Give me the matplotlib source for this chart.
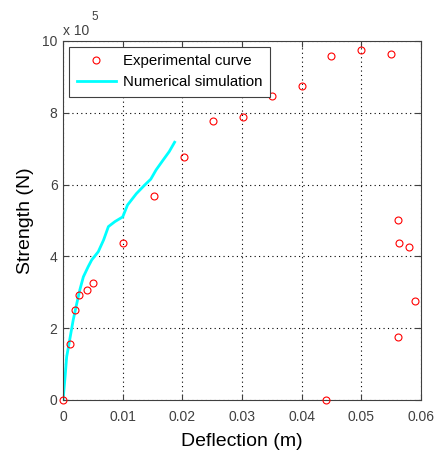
import matplotlib
matplotlib.use('Agg')
import matplotlib.pyplot as plt

plt.rcParams['font.family'] = ['Liberation Sans', 'DejaVu Sans']

# experimental points (deflection m, strength x 1e5 N)
exp_x = [0.0, 0.0012, 0.002, 0.0027, 0.004, 0.0051, 0.0101, 0.0152, 0.0202,
         0.0251, 0.0301, 0.035, 0.040, 0.045, 0.050, 0.055,
         0.0561, 0.0564, 0.058, 0.059, 0.0561, 0.0441]
exp_y = [0.0, 1.55, 2.51, 2.93, 3.07, 3.25, 4.38, 5.69, 6.76,
         7.78, 7.87, 8.46, 8.75, 9.59, 9.74, 9.63,
         5.0, 4.38, 4.26, 2.77, 1.76, 0.0]

# numerical simulation curve
sim_x = [0.0, 0.00034, 0.0006, 0.0012, 0.0017, 0.0023, 0.0028, 0.0034, 0.0042,
         0.0048, 0.0059, 0.0068, 0.0076, 0.0087, 0.0100, 0.0108, 0.0123,
         0.0137, 0.0147, 0.0156, 0.0168, 0.0178, 0.0187]
sim_y = [0.0, 0.65, 1.2, 1.76, 2.23, 2.69, 3.06, 3.43, 3.71,
         3.9, 4.13, 4.46, 4.83, 4.97, 5.1, 5.43, 5.75,
         5.99, 6.15, 6.41, 6.69, 6.92, 7.18]

xticks = [0, 0.01, 0.02, 0.03, 0.04, 0.05, 0.06]
xtick_labels = ['0', '0.01', '0.02', '0.03', '0.04', '0.05', '0.06']
yticks = [0, 2, 4, 6, 8, 10]
ytick_labels = ['0', '2', '4', '6', '8', '10']

fig = plt.figure(figsize=(4.38, 4.53), dpi=100)
ax = fig.add_axes([0.144, 0.117, 0.817, 0.7925])

ax.plot(exp_x, exp_y, 'o', mfc='none', mec='red', ms=5, mew=0.8,
        label='Experimental curve', clip_on=False, zorder=3)
ax.plot(sim_x, sim_y, '-', color='cyan', lw=2, label='Numerical simulation', zorder=2)

ax.set_xlim(0, 0.06)
ax.set_ylim(0, 10)
ax.set_xticks(xticks)
ax.set_xticklabels(xtick_labels)
ax.set_yticks(yticks)
ax.set_yticklabels(ytick_labels)
ax.grid(True, linestyle=(0, (1, 3)), color='black', lw=0.8)
ax.tick_params(direction='in', length=4, labelsize=10, colors='#404040', pad=4,
               top=True, right=True)
ax.tick_params(axis='x', pad=7)
for s in ax.spines.values():
    s.set_color('#404040')

ax.text(0.0, 1.008, 'x 10', transform=ax.transAxes, fontsize=10, color='#404040',
        ha='left', va='bottom')
ax.text(0.08, 1.05, '5', transform=ax.transAxes, fontsize=8.5, color='#404040',
        ha='left', va='bottom')

ax.set_xlabel('Deflection (m)', fontsize=14, labelpad=7)
ax.set_ylabel('Strength (N)', fontsize=14, labelpad=6)

leg = ax.legend(loc='upper left', fontsize=10.8, fancybox=False, framealpha=1,
                edgecolor='#404040', borderaxespad=0.4, handlelength=2.6,
                labelspacing=0.45, borderpad=0.5, handletextpad=0.5)
leg.get_frame().set_linewidth(0.8)

fig.savefig('out.png', dpi=100)
